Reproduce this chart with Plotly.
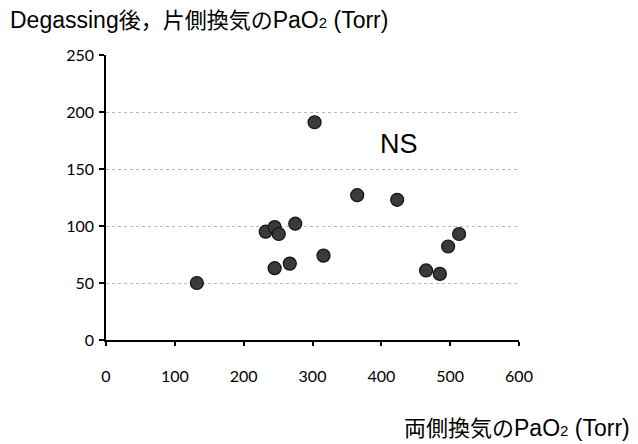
import plotly.graph_objects as go

# Data
pao2_bilateral = [132, 232, 245, 251, 275, 245, 267, 303, 316, 365, 423, 465, 485, 497, 513]
pao2_unilateral = [50, 95, 99, 93, 102, 63, 67, 191, 74, 127, 123, 61, 58, 82, 93]
y_ticks = [0, 50, 100, 150, 200, 250]
x_ticks = [0, 100, 200, 300, 400, 500, 600]

FONT = "Liberation Sans, Arial, Noto Sans CJK JP, sans-serif"
TICKFONT = "Lato, Liberation Sans, sans-serif"


def cjk(s):
    return f"<span style='font-size:22px'>{s}</span>"


def sub2():
    return "<span style='font-size:15px'>2</span>"


y_title = "Degassing" + cjk("後，片側換気の") + "PaO" + sub2() + " (Torr)"
x_title = cjk("両側換気の") + "PaO" + sub2() + " (Torr)"

fig = go.Figure()
fig.add_trace(go.Scatter(
    x=pao2_bilateral, y=pao2_unilateral, mode="markers",
    marker=dict(size=13, color="#3a3a3a", line=dict(color="#111111", width=1.2)),
    showlegend=False, cliponaxis=False,
))

fig.update_layout(
    width=638, height=444,
    margin=dict(l=106, r=119, t=55, b=104),
    paper_bgcolor="white", plot_bgcolor="white",
    font=dict(family=FONT, size=14, color="black"),
    xaxis=dict(range=[0, 600], tickvals=x_ticks, showgrid=False, zeroline=False,
               showline=True, linecolor="black", linewidth=1.5,
               ticks="outside", ticklen=4, tickcolor="black", tickwidth=1.5,
               tickfont=dict(size=16, family=TICKFONT), ticklabelstandoff=17),
    yaxis=dict(range=[0, 250], tickvals=y_ticks, showgrid=True,
               gridcolor="#b8b8b8", griddash="dot", gridwidth=1, zeroline=False,
               showline=True, linecolor="black", linewidth=1.5,
               ticks="outside", ticklen=5, tickcolor="black", tickwidth=1.5,
               tickfont=dict(size=16, family=TICKFONT), ticklabelstandoff=2),
    annotations=[
        dict(text=y_title,
             xref="paper", yref="paper", x=-98/413, y=(340-20)/285,
             xanchor="left", yanchor="middle", showarrow=False,
             font=dict(size=23, family=FONT)),
        dict(text=x_title,
             xref="paper", yref="paper", x=(632-106)/413, y=(340-428)/285,
             xanchor="right", yanchor="middle", showarrow=False,
             font=dict(size=23, family=FONT)),
        dict(text="NS", x=425, y=172, xref="x", yref="y", showarrow=False,
             font=dict(size=27, family=FONT)),
    ],
)

fig.write_html("out.html", config={"displayModeBar": False},
               post_script="document.body.style.margin='0';")
